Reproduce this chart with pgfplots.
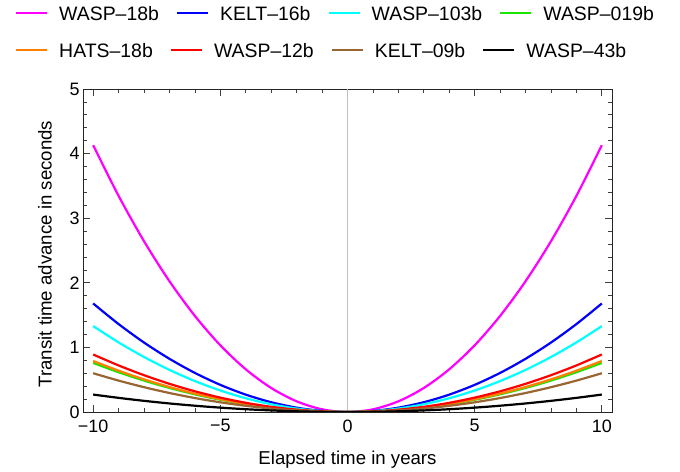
\documentclass[border=0pt]{standalone}
\usepackage{pgfplots}
\usepackage{pgfplotstable}
\usepackage{fontspec}
\setmainfont{Liberation Sans}
\pgfplotsset{compat=1.18}
\definecolor{cMag}{rgb}{1,0,1}
\definecolor{cBlue}{rgb}{0,0,1}
\definecolor{cCyan}{rgb}{0,1,1}
\definecolor{cGreen}{rgb}{0.1,0.9,0}
\definecolor{cOrange}{rgb}{1,0.5,0}
\definecolor{cRed}{rgb}{1,0,0}
\definecolor{cBrown}{rgb}{0.6,0.4,0.2}
\definecolor{cBlack}{rgb}{0,0,0}
\pgfplotstableread{
t    w18    k16    w103   w019   h18    w12    k09    w43
-10  4.1300 1.6800 1.3300 0.7600 0.7900 0.8900 0.6000 0.2700
-9   3.3453 1.3608 1.0773 0.6156 0.6399 0.7209 0.4860 0.2187
-8   2.6432 1.0752 0.8512 0.4864 0.5056 0.5696 0.3840 0.1728
-7   2.0237 0.8232 0.6517 0.3724 0.3871 0.4361 0.2940 0.1323
-6   1.4868 0.6048 0.4788 0.2736 0.2844 0.3204 0.2160 0.0972
-5   1.0325 0.4200 0.3325 0.1900 0.1975 0.2225 0.1500 0.0675
-4   0.6608 0.2688 0.2128 0.1216 0.1264 0.1424 0.0960 0.0432
-3   0.3717 0.1512 0.1197 0.0684 0.0711 0.0801 0.0540 0.0243
-2   0.1652 0.0672 0.0532 0.0304 0.0316 0.0356 0.0240 0.0108
-1   0.0413 0.0168 0.0133 0.0076 0.0079 0.0089 0.0060 0.0027
0    0.0000 0.0000 0.0000 0.0000 0.0000 0.0000 0.0000 0.0000
1    0.0413 0.0168 0.0133 0.0076 0.0079 0.0089 0.0060 0.0027
2    0.1652 0.0672 0.0532 0.0304 0.0316 0.0356 0.0240 0.0108
3    0.3717 0.1512 0.1197 0.0684 0.0711 0.0801 0.0540 0.0243
4    0.6608 0.2688 0.2128 0.1216 0.1264 0.1424 0.0960 0.0432
5    1.0325 0.4200 0.3325 0.1900 0.1975 0.2225 0.1500 0.0675
6    1.4868 0.6048 0.4788 0.2736 0.2844 0.3204 0.2160 0.0972
7    2.0237 0.8232 0.6517 0.3724 0.3871 0.4361 0.2940 0.1323
8    2.6432 1.0752 0.8512 0.4864 0.5056 0.5696 0.3840 0.1728
9    3.3453 1.3608 1.0773 0.6156 0.6399 0.7209 0.4860 0.2187
10   4.1300 1.6800 1.3300 0.7600 0.7900 0.8900 0.6000 0.2700
}\datatable
\pgfplotsset{
  mylegend/.style={
    legend image code/.code={\draw[##1, line width=2.2bp] (0bp,0bp) -- (31bp,0bp);},
    legend style={draw=none, fill=none, inner sep=0pt, outer sep=0pt,
      font=\fontsize{19.5}{22}\selectfont,
      nodes={inner sep=0pt, text depth=0pt},
      /tikz/every odd column/.style={column sep=11bp},
      /tikz/every even column/.style={column sep=17bp}},
    legend cell align=left,
  },
  common/.style={
    scale only axis, width=529bp, height=323bp,
    xmin=-10.4, xmax=10.4, ymin=0, ymax=5,
    at={(83bp,60bp)}, anchor=south west,
  }
}
\begin{document}
\begin{tikzpicture}
\path[use as bounding box] (0,0) rectangle (680bp,472bp);
\begin{axis}[common, mylegend,
  legend columns=4,
  legend style={at={(axis description cs:-0.1285,1.2353)}, anchor=west},
  axis line style={black!85, line width=0.8bp},
  tick align=inside,
  major tick length=7bp, minor tick length=4bp,
  tick style={black!75, line width=0.7bp},
  xtick={-10,-5,0,5,10},
  xticklabels={−10,−5,0,5,10},
  ytick={0,1,2,3,4,5},
  yticklabels={0,1,2,3,4,5},
  minor x tick num=4, minor y tick num=4,
  ticklabel style={font=\fontsize{18}{20}\selectfont},
  xticklabel style={yshift=-4bp},
  xlabel={Elapsed time in years},
  ylabel={Transit time advance in seconds},
  label style={font=\fontsize{18.7}{22}\selectfont},
  xlabel style={at={(axis description cs:0.5,-0.1486)}, anchor=center},
  ylabel style={at={(axis description cs:-0.0718,0.489)}, anchor=center},
  clip=true,
]
\addplot[black!25, line width=0.7bp, forget plot] coordinates {(0,0) (0,5)};
\addplot[cMag, line width=2.2bp, smooth] table[x=t,y=w18] {\datatable};
\addlegendentry{WASP--18b}
\addplot[cBlue, line width=2.2bp, smooth] table[x=t,y=k16] {\datatable};
\addlegendentry{KELT--16b}
\addplot[cCyan, line width=2.2bp, smooth] table[x=t,y=w103] {\datatable};
\addlegendentry{WASP--103b}
\addplot[cGreen, line width=2.2bp, smooth] table[x=t,y=w019] {\datatable};
\addlegendentry{WASP--019b}
\addplot[cOrange, line width=2.2bp, smooth, forget plot] table[x=t,y=h18] {\datatable};
\addplot[cRed, line width=2.2bp, smooth, forget plot] table[x=t,y=w12] {\datatable};
\addplot[cBrown, line width=2.2bp, smooth, forget plot] table[x=t,y=k09] {\datatable};
\addplot[cBlack, line width=2.2bp, smooth, forget plot] table[x=t,y=w43] {\datatable};
\end{axis}
\begin{axis}[common, mylegend, hide axis,
  legend columns=4,
  legend style={at={(axis description cs:-0.1285,1.1207)}, anchor=west},
]
\addlegendimage{cOrange}
\addlegendentry{HATS--18b}
\addlegendimage{cRed}
\addlegendentry{WASP--12b}
\addlegendimage{cBrown}
\addlegendentry{KELT--09b}
\addlegendimage{cBlack}
\addlegendentry{WASP--43b}
\end{axis}
\end{tikzpicture}
\end{document}
